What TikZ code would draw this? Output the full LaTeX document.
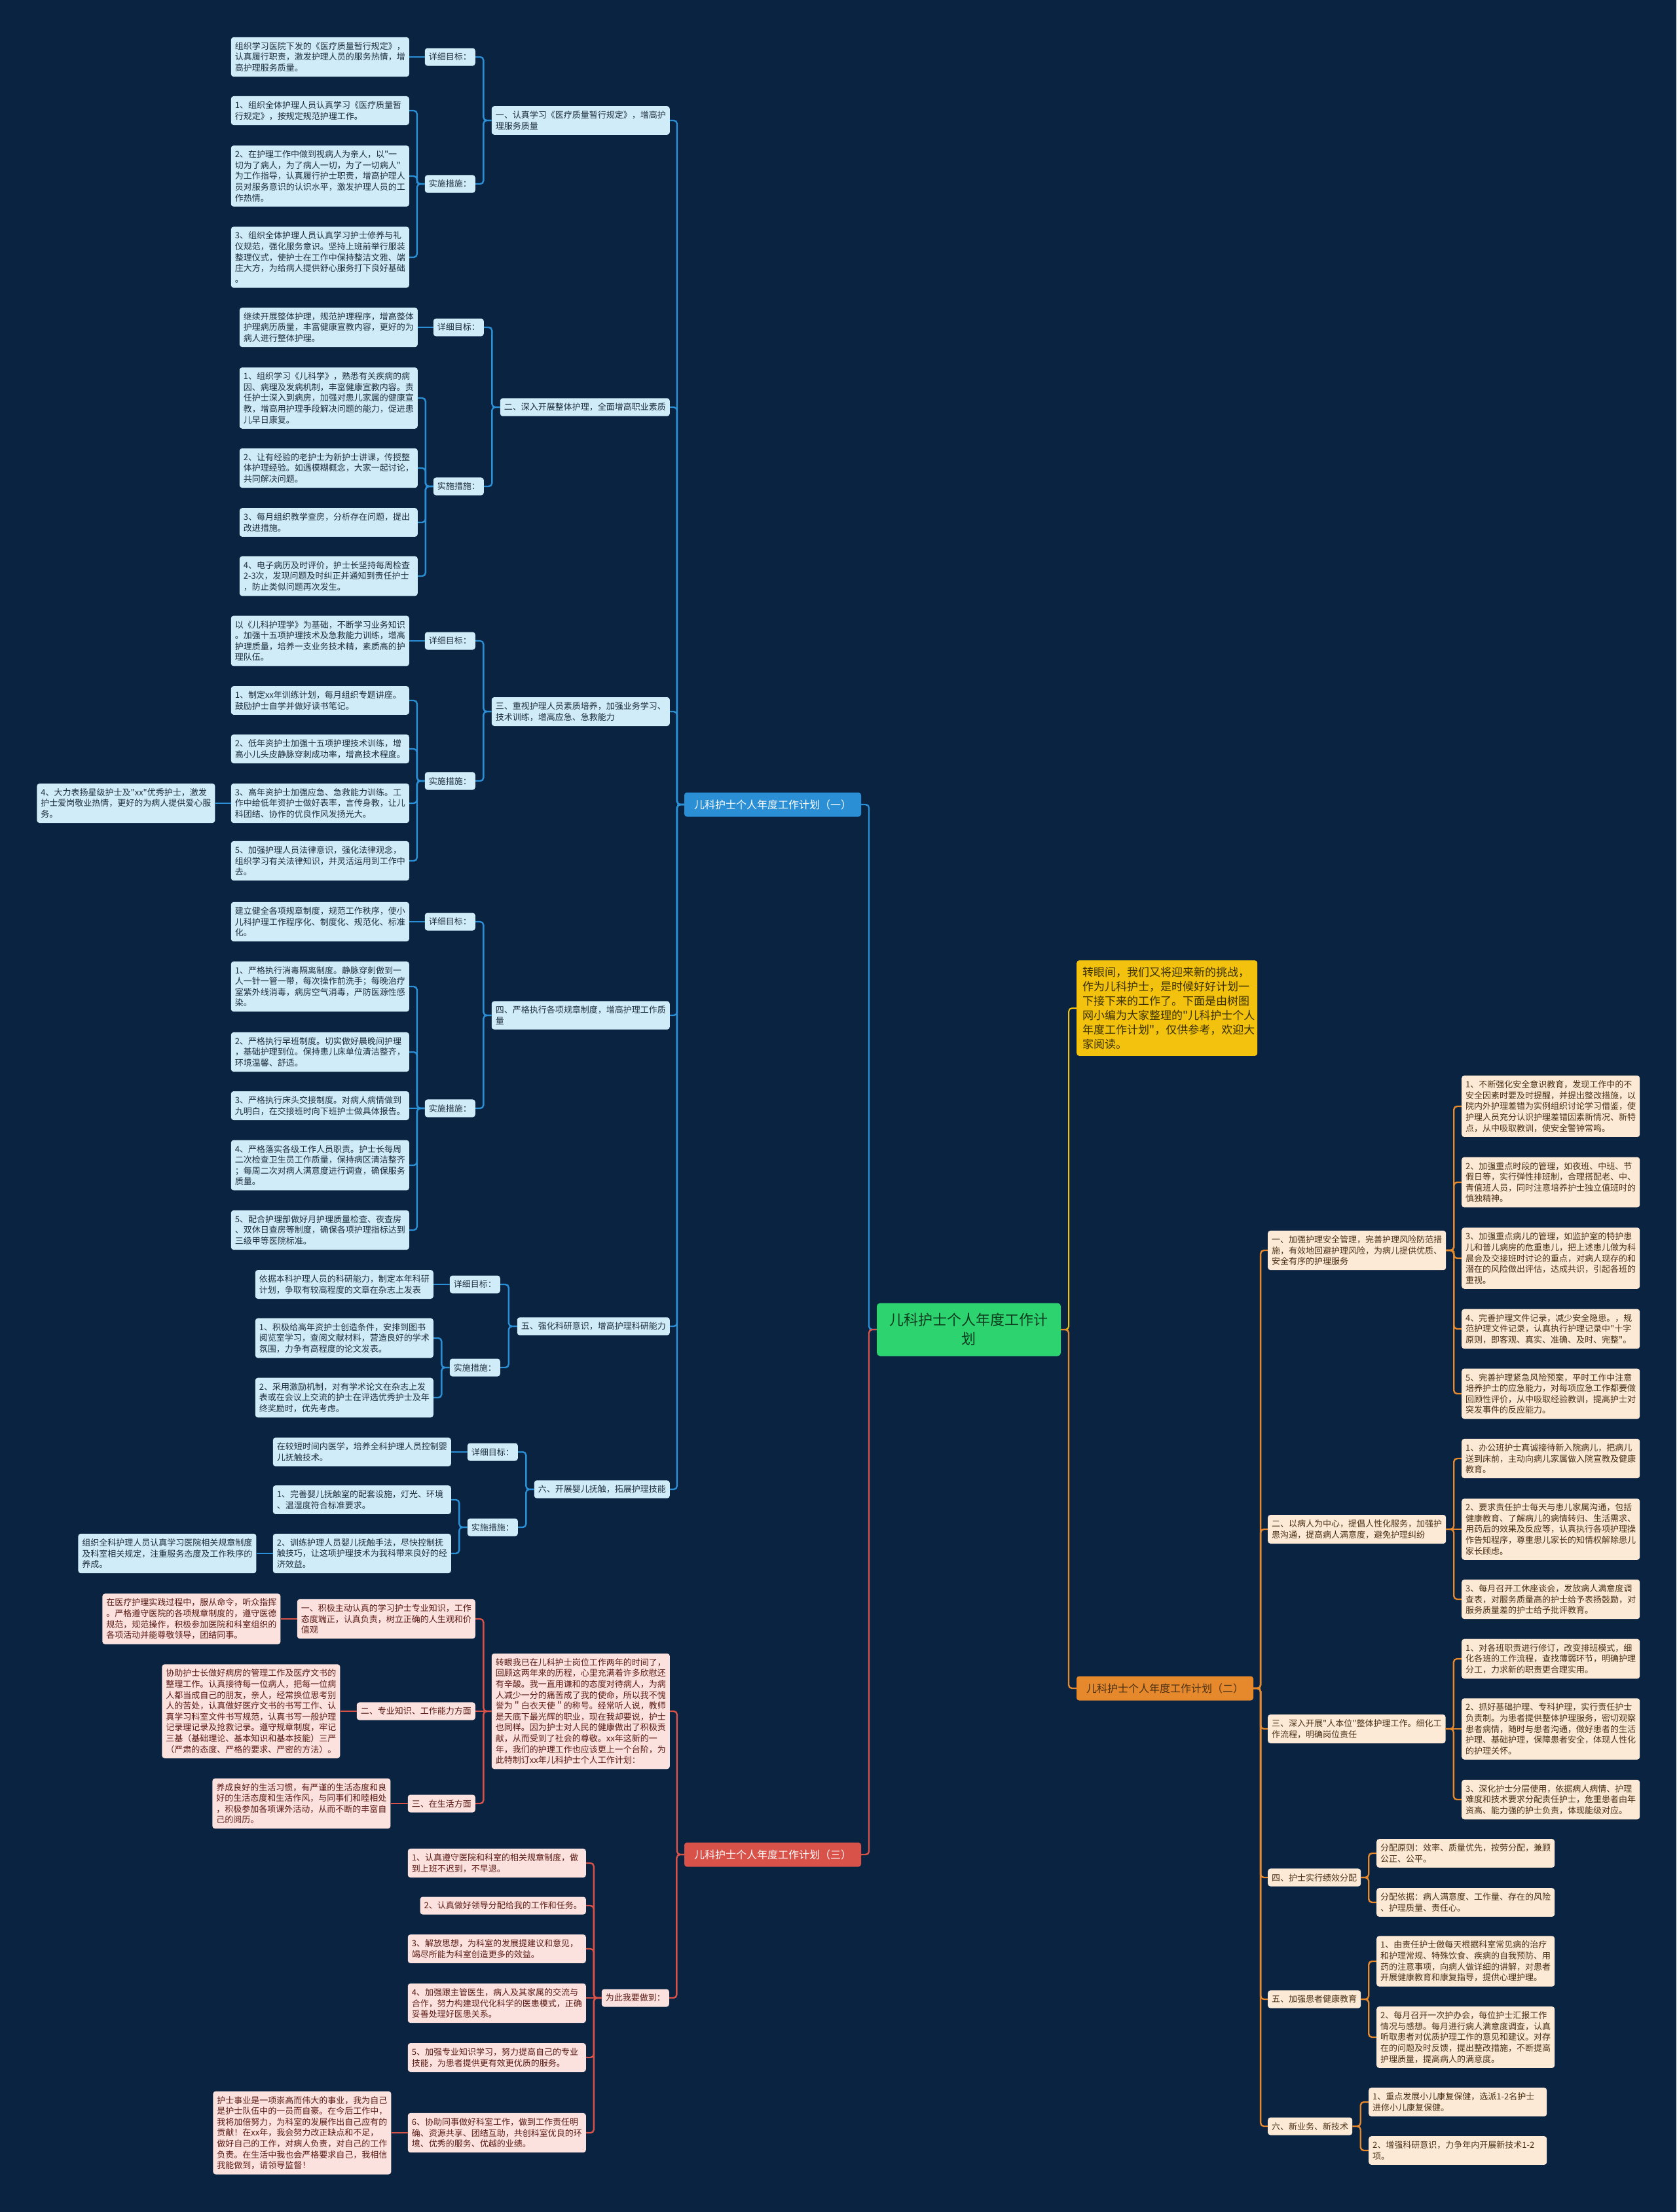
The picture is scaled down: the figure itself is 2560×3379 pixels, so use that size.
\documentclass[tikz,border=0pt]{standalone}
\usepackage{fontspec}
\newfontfamily\mmfont{Noto Sans CJK SC}
\usepackage{xcolor}
\usetikzlibrary{positioning,calc}
\definecolor{mmBack}{HTML}{0A2341}
\definecolor{mmBlue}{HTML}{2B8FD6}
\definecolor{mmBlueLt}{HTML}{D0ECF8}
\definecolor{mmBlueTx}{HTML}{1E2E3E}
\definecolor{mmRed}{HTML}{D9524A}
\definecolor{mmRedLt}{HTML}{FBE2DF}
\definecolor{mmRedTx}{HTML}{5C1A14}
\definecolor{mmOrange}{HTML}{E5892C}
\definecolor{mmOrangeLt}{HTML}{FCEAD7}
\definecolor{mmOrangeTx}{HTML}{4A3015}
\definecolor{mmYellow}{HTML}{F2C20F}
\definecolor{mmYellowTx}{HTML}{3A3000}
\definecolor{mmGreen}{HTML}{2DD36F}
\definecolor{mmGreenTx}{HTML}{0D3B1E}
\tikzset{
  mmnode/.style={rounded corners=4pt, inner xsep=6pt, inner ysep=7.5pt, align=left,
    font=\mmfont\fontsize{13}{16.6}\selectfont},
  bsub/.style={mmnode, fill=mmBlueLt, text=mmBlueTx},
  bleaf/.style={bsub, text width=260pt},
  rsub/.style={mmnode, fill=mmRedLt, text=mmRedTx},
  rleaf/.style={rsub, text width=260pt},
  osub/.style={mmnode, fill=mmOrangeLt, text=mmOrangeTx},
  oleaf/.style={osub, text width=260pt},
  mainnode/.style={rounded corners=4pt, minimum width=270pt, minimum height=37pt,
    font=\mmfont\fontsize{16}{20}\selectfont},
  centre/.style={rounded corners=5pt, fill=mmGreen, text=mmGreenTx, align=center,
    minimum width=281pt, minimum height=81pt, font=\mmfont\fontsize{22}{29}\selectfont},
  ynote/.style={rounded corners=4pt, fill=mmYellow, text=mmYellowTx, align=left,
    text width=258pt, inner xsep=9pt, inner ysep=10pt, font=\mmfont\fontsize{17}{22}\selectfont},
  bline/.style={line width=2.4pt, mmBlue, rounded corners=5pt},
  rline/.style={line width=2.4pt, mmRed, rounded corners=5pt},
  oline/.style={line width=2.4pt, mmOrange, rounded corners=5pt},
  yline/.style={line width=2pt, mmYellow, rounded corners=5pt}
}
\newcommand\lnk[3]{\draw[#1] (#2) -| ($(#2)!.5!(#3)$) |- (#3);}

\begin{document}
\begin{tikzpicture}[x=1pt,y=-1pt]
  \fill[mmBack] (0,0) rectangle (2560,3379);
  \useasboundingbox (0,0) rectangle (2560,3379);

  % centre and first level
  \node[centre] (ctr) at (1479.5,2031) {儿科护士个人年度工作计\\划};
  \node[mainnode, fill=mmBlue, text=white] (bmain) at (1180,1229) {儿科护士个人年度工作计划（一）};
  \node[mainnode, fill=mmRed, text=white] (rmain) at (1180,2833) {儿科护士个人年度工作计划（三）};
  \node[mainnode, fill=mmOrange, text=mmOrangeTx] (omain) at (1779,2579) {儿科护士个人年度工作计划（二）};
  \node[ynote, anchor=west] (intro) at (1644,1540) {转眼间，我们又将迎来新的挑战，\\作为儿科护士，是时候好好计划一\\下接下来的工作了。下面是由树图\\网小编为大家整理的"儿科护士个人\\年度工作计划"，仅供参考，欢迎大\\家阅读。};

  % plan one
  \node[bsub, anchor=east] (s1) at (1023,184) {一、认真学习《医疗质量暂行规定》，增高护\\理服务质量};
  \node[bsub, anchor=east] (s2) at (1023,622) {二、深入开展整体护理，全面增高职业素质};
  \node[bsub, anchor=east] (s3) at (1023,1087) {三、重视护理人员素质培养，加强业务学习、\\技术训练，增高应急、急救能力};
  \node[bsub, anchor=east] (s4) at (1023,1551) {四、严格执行各项规章制度，增高护理工作质\\量};
  \node[bsub, anchor=east] (s5) at (1023,2026) {五、强化科研意识，增高护理科研能力};
  \node[bsub, anchor=east] (s6) at (1023,2275) {六、开展婴儿抚触，拓展护理技能};

  \node[bsub, anchor=east] (d1) at (726,87) {详细目标：};
  \node[bsub, anchor=east] (m1) at (726,281) {实施措施：};
  \node[bleaf, anchor=east] (n1a) at (625,87) {组织学习医院下发的《医疗质量暂行规定》，\\认真履行职责，激发护理人员的服务热情，增\\高护理服务质量。};
  \node[bleaf, anchor=east] (n1b) at (625,169) {1、组织全体护理人员认真学习《医疗质量暂\\行规定》，按规定规范护理工作。};
  \node[bleaf, anchor=east] (n1c) at (625,269) {2、在护理工作中做到视病人为亲人，以"一\\切为了病人，为了病人一切，为了一切病人"\\为工作指导，认真履行护士职责，增高护理人\\员对服务意识的认识水平，激发护理人员的工\\作热情。};
  \node[bleaf, anchor=east] (n1d) at (625,393) {3、组织全体护理人员认真学习护士修养与礼\\仪规范，强化服务意识。坚持上班前举行服装\\整理仪式，使护士在工作中保持整洁文雅、端\\庄大方，为给病人提供舒心服务打下良好基础\\。};

  \node[bsub, anchor=east] (d2) at (739,500) {详细目标：};
  \node[bsub, anchor=east] (m2) at (739,743) {实施措施：};
  \node[bleaf, anchor=east] (n2a) at (638,500) {继续开展整体护理，规范护理程序，增高整体\\护理病历质量，丰富健康宣教内容，更好的为\\病人进行整体护理。};
  \node[bleaf, anchor=east] (n2b) at (638,608) {1、组织学习《儿科学》，熟悉有关疾病的病\\因、病理及发病机制，丰富健康宣教内容。责\\任护士深入到病房，加强对患儿家属的健康宣\\教，增高用护理手段解决问题的能力，促进患\\儿早日康复。};
  \node[bleaf, anchor=east] (n2c) at (638,715) {2、让有经验的老护士为新护士讲课，传授整\\体护理经验。如遇模糊概念，大家一起讨论，\\共同解决问题。};
  \node[bleaf, anchor=east] (n2d) at (638,798) {3、每月组织教学查房，分析存在问题，提出\\改进措施。};
  \node[bleaf, anchor=east] (n2e) at (638,880) {4、电子病历及时评价，护士长坚持每周检查\\2-3次，发现问题及时纠正并通知到责任护士\\，防止类似问题再次发生。};

  \node[bsub, anchor=east] (d3) at (726,979) {详细目标：};
  \node[bsub, anchor=east] (m3) at (726,1193) {实施措施：};
  \node[bleaf, anchor=east] (n3a) at (625,979) {以《儿科护理学》为基础，不断学习业务知识\\。加强十五项护理技术及急救能力训练，增高\\护理质量，培养一支业务技术精，素质高的护\\理队伍。};
  \node[bleaf, anchor=east] (n3b) at (625,1070) {1、制定xx年训练计划，每月组织专题讲座。\\鼓励护士自学并做好读书笔记。};
  \node[bleaf, anchor=east] (n3c) at (625,1144) {2、低年资护士加强十五项护理技术训练，增\\高小儿头皮静脉穿刺成功率，增高技术程度。};
  \node[bleaf, anchor=east] (n3d) at (625,1227) {3、高年资护士加强应急、急救能力训练。工\\作中给低年资护士做好表率，言传身教，让儿\\科团结、协作的优良作风发扬光大。};
  \node[bleaf, anchor=east] (n3e) at (625,1315) {5、加强护理人员法律意识，强化法律观念，\\组织学习有关法律知识，并灵活运用到工作中\\去。};
  \node[bleaf, left=24pt of n3d] (n3x) {4、大力表扬星级护士及"xx"优秀护士，激发\\护士爱岗敬业热情，更好的为病人提供爱心服\\务。};

  \node[bsub, anchor=east] (d4) at (726,1408) {详细目标：};
  \node[bsub, anchor=east] (m4) at (726,1693) {实施措施：};
  \node[bleaf, anchor=east] (n4a) at (625,1408) {建立健全各项规章制度，规范工作秩序，使小\\儿科护理工作程序化、制度化、规范化、标准\\化。};
  \node[bleaf, anchor=east] (n4b) at (625,1507) {1、严格执行消毒隔离制度。静脉穿刺做到一\\人一针一管一带，每次操作前洗手；每晚治疗\\室紫外线消毒，病房空气消毒，严防医源性感\\染。};
  \node[bleaf, anchor=east] (n4c) at (625,1607) {2、严格执行早班制度。切实做好晨晚间护理\\，基础护理到位。保持患儿床单位清洁整齐，\\环境温馨、舒适。};
  \node[bleaf, anchor=east] (n4d) at (625,1689) {3、严格执行床头交接制度。对病人病情做到\\九明白，在交接班时向下班护士做具体报告。};
  \node[bleaf, anchor=east] (n4e) at (625,1780) {4、严格落实各级工作人员职责。护士长每周\\二次检查卫生员工作质量，保持病区清洁整齐\\；每周二次对病人满意度进行调查，确保服务\\质量。};
  \node[bleaf, anchor=east] (n4f) at (625,1879) {5、配合护理部做好月护理质量检查、夜查房\\、双休日查房等制度，确保各项护理指标达到\\三级甲等医院标准。};

  \node[bsub, anchor=east] (d5) at (764,1962) {详细目标：};
  \node[bsub, anchor=east] (m5) at (764,2089) {实施措施：};
  \node[bleaf, anchor=east] (n5a) at (662,1962) {依据本科护理人员的科研能力，制定本年科研\\计划，争取有较高程度的文章在杂志上发表};
  \node[bleaf, anchor=east] (n5b) at (662,2044) {1、积极给高年资护士创造条件，安排到图书\\阅览室学习，查阅文献材料，营造良好的学术\\氛围，力争有高程度的论文发表。};
  \node[bleaf, anchor=east] (n5c) at (662,2135) {2、采用激励机制，对有学术论文在杂志上发\\表或在会议上交流的护士在评选优秀护士及年\\终奖励时，优先考虑。};

  \node[bsub, anchor=east] (d6) at (791,2218) {详细目标：};
  \node[bsub, anchor=east] (m6) at (791,2333) {实施措施：};
  \node[bleaf, anchor=east] (n6a) at (689,2218) {在较短时间内医学，培养全科护理人员控制婴\\儿抚触技术。};
  \node[bleaf, anchor=east] (n6b) at (689,2291) {1、完善婴儿抚触室的配套设施，灯光、环境\\、温湿度符合标准要求。};
  \node[bleaf, anchor=east] (n6c) at (689,2373) {2、训练护理人员婴儿抚触手法，尽快控制抚\\触技巧，让这项护理技术为我科带来良好的经\\济效益。};
  \node[bleaf, left=25pt of n6c] (n6x) {组织全科护理人员认真学习医院相关规章制度\\及科室相关规定，注重服务态度及工作秩序的\\养成。};

  % plan three
  \node[rleaf, anchor=east] (rP) at (1023,2614) {转眼我已在儿科护士岗位工作两年的时间了，\\回顾这两年来的历程，心里充满着许多欣慰还\\有辛酸。我一直用谦和的态度对待病人，为病\\人减少一分的痛苦成了我的使命，所以我不愧\\誉为＂白衣天使＂的称号。经常听人说，教师\\是天底下最光辉的职业，现在我却要说，护士\\也同样。因为护士对人民的健康做出了积极贡\\献，从而受到了社会的尊敬。xx年这新的一\\年，我们的护理工作也应该更上一个台阶，为\\此特制订xx年儿科护士个人工作计划：};
  \node[rsub, anchor=east] (r1) at (726,2473) {一、积极主动认真的学习护士专业知识，工作\\态度端正，认真负责，树立正确的人生观和价\\值观};
  \node[rsub, anchor=east] (r2) at (726,2614) {二、专业知识、工作能力方面};
  \node[rsub, anchor=east] (r3) at (726,2755) {三、在生活方面};
  \node[rleaf, left=25pt of r1] (r1a) {在医疗护理实践过程中，服从命令，听众指挥\\。严格遵守医院的各项规章制度的，遵守医德\\规范，规范操作，积极参加医院和科室组织的\\各项活动并能尊敬领导，团结同事。};
  \node[rleaf, left=25pt of r2] (r2a) {协助护士长做好病房的管理工作及医疗文书的\\整理工作。认真接待每一位病人，把每一位病\\人都当成自己的朋友，亲人，经常换位思考别\\人的苦处，认真做好医疗文书的书写工作、认\\真学习科室文件书写规范，认真书写一般护理\\记录理记录及抢救记录。遵守规章制度，牢记\\三基（基础理论、基本知识和基本技能）三严\\（严肃的态度、严格的要求、严密的方法）。};
  \node[rleaf, left=26pt of r3] (r3a) {养成良好的生活习惯，有严谨的生活态度和良\\好的生活态度和生活作风，与同事们和睦相处\\，积极参加各项课外活动，从而不断的丰富自\\己的阅历。};

  \node[rsub, anchor=east] (r4) at (1022,3052) {为此我要做到：};
  \node[rleaf, anchor=east] (r4a) at (895,2846) {1、认真遵守医院和科室的相关规章制度，做\\到上班不迟到，不早退。};
  \node[rsub, anchor=east] (r4b) at (895,2911) {2、认真做好领导分配给我的工作和任务。};
  \node[rleaf, anchor=east] (r4c) at (895,2977) {3、解放思想，为科室的发展提建议和意见，\\竭尽所能为科室创造更多的效益。};
  \node[rleaf, anchor=east] (r4d) at (895,3060) {4、加强跟主管医生，病人及其家属的交流与\\合作，努力构建现代化科学的医患模式，正确\\妥善处理好医患关系。};
  \node[rleaf, anchor=east] (r4e) at (895,3143) {5、加强专业知识学习，努力提高自己的专业\\技能，为患者提供更有效更优质的服务。};
  \node[rleaf, anchor=east] (r4f) at (895,3258) {6、协助同事做好科室工作，做到工作责任明\\确、资源共享、团结互助，共创科室优良的环\\境、优秀的服务、优越的业绩。};
  \node[rleaf, left=25pt of r4f] (r4x) {护士事业是一项崇高而伟大的事业，我为自己\\是护士队伍中的一员而自豪。在今后工作中，\\我将加倍努力，为科室的发展作出自己应有的\\贡献！在xx年，我会努力改正缺点和不足，\\做好自己的工作，对病人负责，对自己的工作\\负责。在生活中我也会严格要求自己，我相信\\我能做到，请领导监督！};

  % plan two
  \node[osub, anchor=west] (o1) at (1936,1910) {一、加强护理安全管理，完善护理风险防范措\\施，有效地回避护理风险，为病儿提供优质、\\安全有序的护理服务};
  \node[oleaf, anchor=west] (o1a) at (2232,1690) {1、不断强化安全意识教育，发现工作中的不\\安全因素时要及时提醒，并提出整改措施，以\\院内外护理差错为实例组织讨论学习借鉴，使\\护理人员充分认识护理差错因素新情况、新特\\点，从中吸取教训，使安全警钟常鸣。};
  \node[oleaf, anchor=west] (o1b) at (2232,1806) {2、加强重点时段的管理，如夜班、中班、节\\假日等，实行弹性排班制，合理搭配老、中、\\青值班人员，同时注意培养护士独立值班时的\\慎独精神。};
  \node[oleaf, anchor=west] (o1c) at (2232,1922) {3、加强重点病儿的管理，如监护室的特护患\\儿和普儿病房的危重患儿，把上述患儿做为科\\晨会及交接班时讨论的重点，对病人现存的和\\潜在的风险做出评估，达成共识，引起各班的\\重视。};
  \node[oleaf, anchor=west] (o1d) at (2232,2030) {4、完善护理文件记录，减少安全隐患。，规\\范护理文件记录，认真执行护理记录中"十字\\原则，即客观、真实、准确、及时、完整"。};
  \node[oleaf, anchor=west] (o1e) at (2232,2129) {5、完善护理紧急风险预案，平时工作中注意\\培养护士的应急能力，对每项应急工作都要做\\回顾性评价，从中吸取经验教训，提高护士对\\突发事件的反应能力。};

  \node[osub, anchor=west] (o2) at (1936,2336) {二、以病人为中心，提倡人性化服务，加强护\\患沟通，提高病人满意度，避免护理纠纷};
  \node[oleaf, anchor=west] (o2a) at (2232,2228) {1、办公班护士真诚接待新入院病儿，把病儿\\送到床前，主动向病儿家属做入院宣教及健康\\教育。};
  \node[oleaf, anchor=west] (o2b) at (2232,2336) {2、要求责任护士每天与患儿家属沟通，包括\\健康教育、了解病儿的病情转归、生活需求、\\用药后的效果及反应等，认真执行各项护理操\\作告知程序，尊重患儿家长的知情权解除患儿\\家长顾虑。};
  \node[oleaf, anchor=west] (o2c) at (2232,2443) {3、每月召开工休座谈会，发放病人满意度调\\查表，对服务质量高的护士给予表扬鼓励，对\\服务质量差的护士给予批评教育。};

  \node[osub, anchor=west] (o3) at (1936,2641) {三、深入开展"人本位"整体护理工作。细化工\\作流程，明确岗位责任};
  \node[oleaf, anchor=west] (o3a) at (2232,2534) {1、对各班职责进行修订，改变排班模式，细\\化各班的工作流程，查找薄弱环节，明确护理\\分工，力求新的职责更合理实用。};
  \node[oleaf, anchor=west] (o3b) at (2232,2641) {2、抓好基础护理、专科护理，实行责任护士\\负责制。为患者提供整体护理服务，密切观察\\患者病情，随时与患者沟通，做好患者的生活\\护理、基础护理，保障患者安全，体现人性化\\的护理关怀。};
  \node[oleaf, anchor=west] (o3c) at (2232,2749) {3、深化护士分层使用，依据病人病情、护理\\难度和技术要求分配责任护士，危重患者由年\\资高、能力强的护士负责，体现能级对应。};

  \node[osub, anchor=west] (o4) at (1936,2868) {四、护士实行绩效分配};
  \node[oleaf, anchor=west] (o4a) at (2102,2831) {分配原则：效率、质量优先，按劳分配，兼顾\\公正、公平。};
  \node[oleaf, anchor=west] (o4b) at (2102,2906) {分配依据：病人满意度、工作量、存在的风险\\、护理质量、责任心。};

  \node[osub, anchor=west] (o5) at (1936,3054) {五、加强患者健康教育};
  \node[oleaf, anchor=west] (o5a) at (2102,2996) {1、由责任护士做每天根据科室常见病的治疗\\和护理常规、特殊饮食、疾病的自我预防、用\\药的注意事项，向病人做详细的讲解，对患者\\开展健康教育和康复指导，提供心理护理。};
  \node[oleaf, anchor=west] (o5b) at (2102,3112) {2、每月召开一次护办会，每位护士汇报工作\\情况与感想。每月进行病人满意度调查，认真\\听取患者对优质护理工作的意见和建议。对存\\在的问题及时反馈，提出整改措施，不断提高\\护理质量，提高病人的满意度。};

  \node[osub, anchor=west] (o6) at (1936,3248) {六、新业务、新技术};
  \node[oleaf, anchor=west] (o6a) at (2090,3211) {1、重点发展小儿康复保健，选派1-2名护士\\进修小儿康复保健。};
  \node[oleaf, anchor=west] (o6b) at (2090,3285) {2、增强科研意识，力争年内开展新技术1-2\\项。};

  % connectors from the centre
  \lnk{bline}{ctr.west}{bmain.east}
  \lnk{rline}{ctr.west}{rmain.east}
  \lnk{yline}{ctr.east}{intro.west}
  \lnk{oline}{ctr.east}{omain.west}

  % plan one links
  \lnk{bline}{bmain.west}{s1.east}
  \lnk{bline}{bmain.west}{s2.east}
  \lnk{bline}{bmain.west}{s3.east}
  \lnk{bline}{bmain.west}{s4.east}
  \lnk{bline}{bmain.west}{s5.east}
  \lnk{bline}{bmain.west}{s6.east}
  \lnk{bline}{s1.west}{d1.east}
  \lnk{bline}{s1.west}{m1.east}
  \draw[bline] (d1.west) -- (n1a.east);
  \lnk{bline}{m1.west}{n1b.east}
  \lnk{bline}{m1.west}{n1c.east}
  \lnk{bline}{m1.west}{n1d.east}
  \lnk{bline}{s2.west}{d2.east}
  \lnk{bline}{s2.west}{m2.east}
  \draw[bline] (d2.west) -- (n2a.east);
  \lnk{bline}{m2.west}{n2b.east}
  \lnk{bline}{m2.west}{n2c.east}
  \lnk{bline}{m2.west}{n2d.east}
  \lnk{bline}{m2.west}{n2e.east}
  \lnk{bline}{s3.west}{d3.east}
  \lnk{bline}{s3.west}{m3.east}
  \draw[bline] (d3.west) -- (n3a.east);
  \lnk{bline}{m3.west}{n3b.east}
  \lnk{bline}{m3.west}{n3c.east}
  \lnk{bline}{m3.west}{n3d.east}
  \lnk{bline}{m3.west}{n3e.east}
  \draw[bline] (n3d.west) -- (n3x.east);
  \lnk{bline}{s4.west}{d4.east}
  \lnk{bline}{s4.west}{m4.east}
  \draw[bline] (d4.west) -- (n4a.east);
  \lnk{bline}{m4.west}{n4b.east}
  \lnk{bline}{m4.west}{n4c.east}
  \draw[bline] (m4.west) -- (m4.west -| n4d.east);
  \lnk{bline}{m4.west}{n4e.east}
  \lnk{bline}{m4.west}{n4f.east}
  \lnk{bline}{s5.west}{d5.east}
  \lnk{bline}{s5.west}{m5.east}
  \draw[bline] (d5.west) -- (n5a.east);
  \lnk{bline}{m5.west}{n5b.east}
  \lnk{bline}{m5.west}{n5c.east}
  \lnk{bline}{s6.west}{d6.east}
  \lnk{bline}{s6.west}{m6.east}
  \draw[bline] (d6.west) -- (n6a.east);
  \lnk{bline}{m6.west}{n6b.east}
  \lnk{bline}{m6.west}{n6c.east}
  \draw[bline] (n6c.west) -- (n6x.east);

  % plan three links
  \lnk{rline}{rmain.west}{rP.east}
  \lnk{rline}{rmain.west}{r4.east}
  \lnk{rline}{rP.west}{r1.east}
  \draw[rline] (rP.west) -- (r2.east);
  \lnk{rline}{rP.west}{r3.east}
  \draw[rline] (r1.west) -- (r1a.east);
  \draw[rline] (r2.west) -- (r2a.east);
  \draw[rline] (r3.west) -- (r3a.east);
  \lnk{rline}{r4.west}{r4a.east}
  \lnk{rline}{r4.west}{r4b.east}
  \lnk{rline}{r4.west}{r4c.east}
  \draw[rline] (r4.west) -- (r4.west -| r4d.east);
  \lnk{rline}{r4.west}{r4e.east}
  \lnk{rline}{r4.west}{r4f.east}
  \draw[rline] (r4f.west) -- (r4x.east);

  % plan two links
  \lnk{oline}{omain.east}{o1.west}
  \lnk{oline}{omain.east}{o2.west}
  \lnk{oline}{omain.east}{o3.west}
  \lnk{oline}{omain.east}{o4.west}
  \lnk{oline}{omain.east}{o5.west}
  \lnk{oline}{omain.east}{o6.west}
  \lnk{oline}{o1.east}{o1a.west}
  \lnk{oline}{o1.east}{o1b.west}
  \lnk{oline}{o1.east}{o1c.west}
  \lnk{oline}{o1.east}{o1d.west}
  \lnk{oline}{o1.east}{o1e.west}
  \lnk{oline}{o2.east}{o2a.west}
  \draw[oline] (o2.east) -- (o2.east -| o2b.west);
  \lnk{oline}{o2.east}{o2c.west}
  \lnk{oline}{o3.east}{o3a.west}
  \draw[oline] (o3.east) -- (o3.east -| o3b.west);
  \lnk{oline}{o3.east}{o3c.west}
  \lnk{oline}{o4.east}{o4a.west}
  \lnk{oline}{o4.east}{o4b.west}
  \lnk{oline}{o5.east}{o5a.west}
  \lnk{oline}{o5.east}{o5b.west}
  \lnk{oline}{o6.east}{o6a.west}
  \lnk{oline}{o6.east}{o6b.west}
\end{tikzpicture}
\end{document}
